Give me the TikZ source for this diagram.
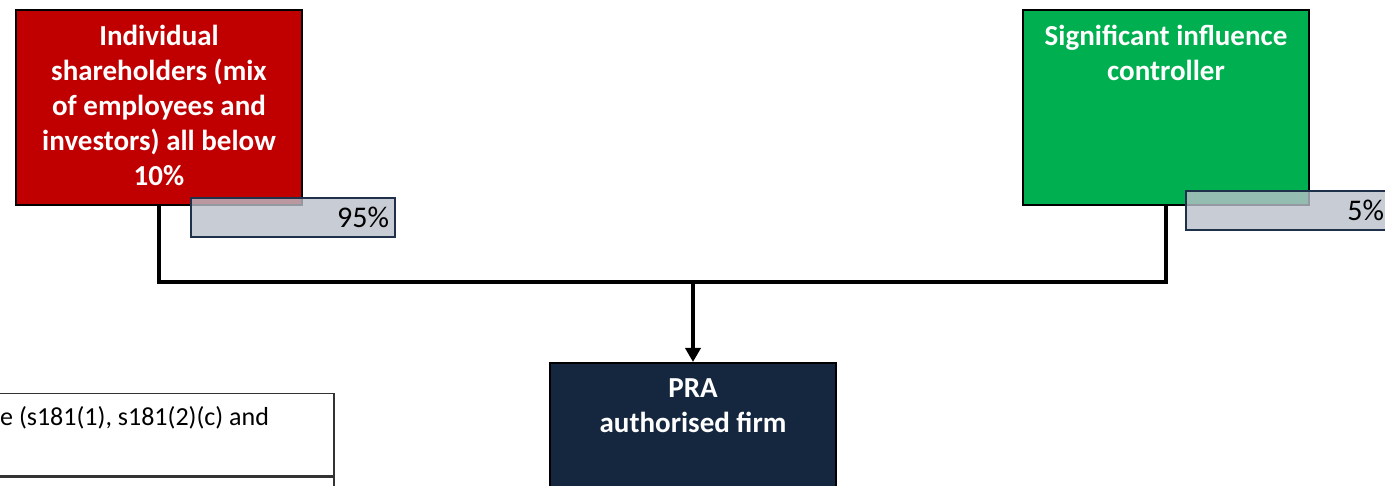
\documentclass[tikz,border=0pt]{standalone}
\usepackage{fontspec}
\setmainfont{Carlito}
\usetikzlibrary{positioning,arrows.meta}

\definecolor{holdred}{HTML}{C00000}
\definecolor{holdgreen}{HTML}{00B050}
\definecolor{firmnavy}{HTML}{15273F}
\definecolor{sharegray}{HTML}{BABFC9}
\definecolor{shareedge}{HTML}{1F304A}

\begin{document}
\begin{tikzpicture}[
    x=1pt, y=-1pt,
    holder/.style={draw=black, line width=2pt, inner sep=0pt, anchor=north west,
        minimum width=286pt, minimum height=195pt},
    red_box/.style={holder, fill=holdred},
    green_box/.style={holder, fill=holdgreen},
    firm_box/.style={holder, fill=firmnavy, minimum height=135pt},
    box_label/.style={text=white, align=center, inner sep=0pt, anchor=north, yshift=-16pt,
        font=\fontsize{29}{35}\selectfont\bfseries},
    share/.style={draw=shareedge, line width=2pt, fill=sharegray, fill opacity=0.8,
        text opacity=1, anchor=north west, inner sep=6pt, text width=192pt, align=right,
        minimum height=39pt, font=\fontsize{30}{36}\selectfont},
    note_box/.style={draw=black!80, line width=1.5pt, fill=white, anchor=north west,
        inner sep=0pt, minimum width=343pt, minimum height=82pt},
    note_label/.style={anchor=base west, inner sep=0pt, font=\fontsize{26}{31}\selectfont},
    link/.style={line width=4pt, black}
]
    \useasboundingbox (0,0) rectangle (1385,486);
    \clip (0,0) rectangle (1385,486);
    % Caixas
    \node[red_box] (holders) at (15,9) {};
    \node[box_label] (holders_txt) at (holders.north)
        {Individual\\shareholders (mix\\of employees and\\investors) all below\\10\%};
    \node[green_box] (influence) at (1022,9) {};
    \node[box_label] (influence_txt) at (influence.north) {Significant influence\\controller};
    \node[firm_box] (firm) at (549,362) {};
    \node[box_label] (firm_txt) at (firm.north) {PRA\\authorised firm};
    % Nota
    \node[note_box] (note) at (-10,393) {};
    \node[note_box] (note_next) at (-10,476) {};
    \node[note_label] (note_txt) at (0,425) {e (s181(1), s181(2)(c) and};
    % Ligacoes
    \coordinate (join) at (firm.north |- 0,282);
    \draw[link] (holders.south) |- (join) -| (influence.south);
    \draw[link, -{Triangle[length=14pt, width=15pt]}] (join) -- (firm.north);
    % Percentagens
    \node[share] (share_a) at (190,197) {95\%};
    \node[share] (share_b) at (1185,190) {5\%};
\end{tikzpicture}
\end{document}
